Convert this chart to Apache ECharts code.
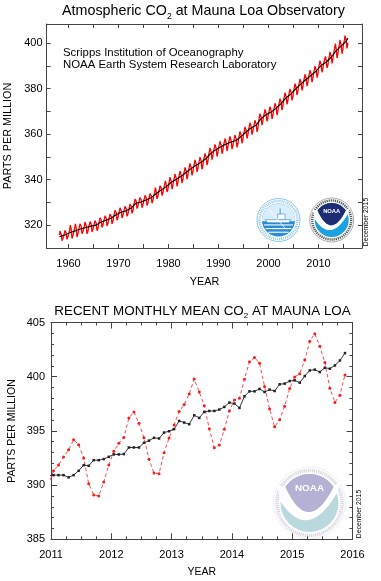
<!DOCTYPE html>
<html><head><meta charset="utf-8">
<script src="https://cdn.jsdelivr.net/npm/echarts@6/dist/echarts.min.js"></script>
<style>html,body{margin:0;padding:0;background:#fff}#c{width:381px;height:581px}</style>
</head><body><div id="c"></div>
<script>
const FONT = '"Liberation Sans", Arial, Helvetica, sans-serif';

// ---------- TOP CHART DATA ----------
// Monthly mean CO2 at Mauna Loa (ppm), Jan 1958 .. Nov 2010, one row per year (Jan..Dec)
const topStartYear = 1958;
const topMonthlyCo2 = [
 null,null,315.71,317.45,317.50,317.10,315.86,314.93,313.20,312.66,313.33,314.67,
 315.62,316.38,316.71,317.72,318.29,318.15,316.54,314.80,313.84,313.26,314.80,315.58,
 316.43,316.97,317.58,319.02,320.03,319.59,318.18,315.91,314.16,313.83,315.00,316.19,
 316.93,317.70,318.54,319.48,320.58,319.77,318.57,316.79,314.80,315.38,316.10,317.01,
 317.94,318.56,319.68,320.63,321.01,320.55,319.58,317.40,316.26,315.42,316.69,317.69,
 318.74,319.08,319.86,321.39,322.25,321.47,319.74,317.77,316.21,315.99,317.12,318.31,
 319.3,319.9,320.4,321.6,322.4,322.0,320.6,318.5,317.1,316.8,318.0,319.0,
 319.6,320.3,320.8,322.0,322.8,322.5,321.0,319.0,317.6,317.2,318.5,319.5,
 320.9,321.5,322.1,323.3,324.1,323.8,322.3,320.3,319.0,318.6,319.9,320.9,
 321.8,322.4,322.9,324.1,324.9,324.6,323.1,321.1,319.7,319.3,320.6,321.6,
 322.5,323.1,323.7,324.9,325.7,325.4,324.0,322.0,320.6,320.3,321.6,322.6,
 324.1,324.7,325.3,326.5,327.3,327.0,325.6,323.6,322.2,321.9,323.2,324.2,
 325.3,325.9,326.4,327.6,328.4,328.1,326.6,324.6,323.2,322.8,324.1,325.1,
 325.9,326.5,327.1,328.3,329.1,328.7,327.3,325.2,323.9,323.5,324.8,325.8,
 326.7,327.4,328.0,329.3,330.1,329.8,328.4,326.5,325.2,324.9,326.2,327.3,
 329.0,329.7,330.2,331.5,332.3,332.1,330.6,328.7,327.3,327.0,328.3,329.4,
 329.9,330.5,331.0,332.2,333.0,332.6,331.1,329.1,327.7,327.3,328.5,329.5,
 330.7,331.3,331.9,333.1,333.9,333.5,332.1,330.0,328.7,328.3,329.6,330.6,
 331.3,332.0,332.6,333.9,334.7,334.4,333.0,331.0,329.7,329.4,330.7,331.8,
 333.0,333.7,334.3,335.6,336.5,336.2,334.8,332.9,331.6,331.3,332.6,333.7,
 334.7,335.4,336.0,337.3,338.1,337.8,336.4,334.4,333.1,332.8,334.1,335.2,
 336.0,336.7,337.3,338.6,339.5,339.2,337.8,335.9,334.6,334.3,335.6,336.9,
 337.9,338.8,339.8,341.1,341.7,341.0,339.3,337.2,335.8,335.9,337.3,338.8,
 339.7,340.5,341.2,342.5,343.0,342.3,340.6,338.5,337.1,337.3,338.7,340.1,
 341.0,341.8,342.5,343.8,344.4,343.7,342.0,339.9,338.5,338.6,340.0,341.5,
 342.6,343.4,344.1,345.4,346.0,345.3,343.7,341.6,340.2,340.4,341.8,343.3,
 344.4,345.2,345.9,347.2,347.8,347.0,345.4,343.2,341.9,342.0,343.4,344.8,
 345.9,346.7,347.4,348.7,349.3,348.5,346.9,344.7,343.4,343.5,344.9,346.3,
 347.2,347.9,348.7,349.9,350.5,349.8,348.1,346.0,344.6,344.8,346.2,347.6,
 348.6,349.5,350.2,351.5,352.2,351.5,349.8,347.8,346.4,346.6,348.1,349.5,
 351.1,351.9,352.6,354.0,354.6,353.9,352.2,350.1,348.8,349.0,350.4,351.9,
 352.8,353.5,354.3,355.5,356.1,355.4,353.7,351.6,350.2,350.3,351.8,353.2,
 354.2,354.9,355.6,356.9,357.4,356.7,355.0,352.8,351.4,351.5,352.9,354.3,
 355.4,356.2,356.9,358.1,358.7,357.9,356.2,354.1,352.7,352.8,354.2,355.6,
 356.4,357.1,357.8,359.0,359.5,358.8,357.0,354.8,353.4,353.5,354.8,356.2,
 356.9,357.7,358.4,359.6,360.2,359.4,357.7,355.6,354.2,354.3,355.7,357.1,
 358.3,359.1,359.9,361.2,361.8,361.1,359.5,357.4,356.0,356.2,357.6,359.1,
 360.3,361.1,361.9,363.2,363.8,363.1,361.5,359.4,358.1,358.2,359.7,361.1,
 362.3,363.1,363.8,365.1,365.7,364.9,363.3,361.1,359.8,359.9,361.3,362.7,
 363.2,364.0,364.8,366.1,366.7,366.1,364.4,362.3,361.0,361.2,362.6,364.1,
 366.0,366.9,367.7,369.0,369.7,369.0,367.4,365.3,364.0,364.2,365.7,367.2,
 368.1,368.9,369.6,370.9,371.5,370.7,369.1,366.9,365.6,365.7,367.1,368.5,
 369.3,370.1,370.8,372.1,372.6,371.9,370.2,368.1,366.7,366.9,368.3,369.7,
 370.7,371.5,372.3,373.6,374.2,373.5,371.9,369.8,368.4,368.6,370.0,371.5,
 372.7,373.5,374.3,375.6,376.3,375.6,374.0,371.9,370.6,370.8,372.3,373.8,
 375.3,376.1,376.9,378.2,378.8,378.2,376.5,374.4,373.1,373.3,374.7,376.2,
 377.0,377.9,378.6,379.9,380.6,379.9,378.2,376.2,374.8,375.0,376.5,377.9,
 379.2,380.0,380.8,382.2,382.8,382.1,380.5,378.5,377.2,377.3,378.8,380.3,
 381.4,382.2,383.0,384.3,384.9,384.3,382.6,380.5,379.2,379.4,380.8,382.3,
 383.4,384.2,385.0,386.3,386.9,386.2,384.6,382.5,381.1,381.3,382.7,384.2,
 385.3,386.1,386.8,388.1,388.7,388.0,386.4,384.3,382.9,383.1,384.5,386.0,
 387.0,387.8,388.6,389.9,390.5,389.8,388.2,386.1,384.8,384.9,386.4,387.9,
 389.4,390.2,391.0,392.3,392.9,392.3,390.6,388.6,387.2,387.4,388.9
];
// Seasonally corrected trend (ppm) at decimal years
const trendYears = [1958.2,1958.5,1959.5,1960.5,1961.5,1962.5,1963.5,1964.5,1965.5,1966.5,1967.5,1968.5,1969.5,
 1970.5,1971.5,1972.5,1973.5,1974.5,1975.5,1976.5,1977.5,1978.5,1979.5,1980.5,1981.5,1982.5,1983.5,1984.5,
 1985.5,1986.5,1987.5,1988.5,1989.5,1990.5,1991.5,1992.5,1993.5,1994.5,1995.5,1996.5,1997.5,1998.5,1999.5,
 2000.5,2001.5,2002.5,2003.5,2004.5,2005.5,2006.5,2007.5,2008.5,2009.5,2010.5,2011.5,2012.5,2013.5,2014.5,2015.5,2015.88];
const trendValues = [314.9,315.2,315.97,316.91,317.64,318.45,318.99,319.62,320.04,321.38,322.16,323.04,324.62,
 325.68,326.32,327.45,329.68,330.19,331.12,332.03,333.84,335.41,336.84,338.76,340.12,341.48,343.15,344.85,
 346.35,347.61,349.31,351.69,353.20,354.45,355.70,356.54,357.21,358.96,360.97,362.74,363.88,366.84,368.54,
 369.71,371.32,373.45,375.98,377.70,379.98,382.09,384.02,385.83,387.64,390.10,391.6,393.7,396.6,398.7,400.8,402.2];
const topXTicks = [1960,1965,1970,1975,1980,1985,1990,1995,2000,2005,2010,2015];
const topXLabels = [1960,1970,1980,1990,2000,2010];
const topYTicks = [320,330,340,350,360,370,380,390,400];
const topYLabels = [320,340,360,380,400];

// ---------- BOTTOM CHART DATA ----------
// Monthly values from Dec 2010 to Nov 2015
const recentStartYear = 2010, recentStartMonth = 11; // Dec 2010 (0-based month)
const recentMonthlyMean = [389.97,
 391.33,391.86,392.60,393.25,394.19,393.73,392.51,390.13,389.08,389.00,390.28,391.86,
 393.12,393.86,394.40,396.18,396.74,395.71,394.36,392.39,391.11,391.05,392.98,394.34,
 395.55,396.80,397.43,398.41,399.78,398.60,397.32,395.20,393.45,393.70,395.16,396.84,
 397.85,398.01,399.77,401.38,401.78,401.25,399.10,397.03,395.38,396.03,397.28,398.91,
 399.98,400.28,401.54,403.28,403.96,402.80,401.31,398.93,397.63,398.29,400.16];
const recentTrend = [390.85,
 390.92,390.92,390.92,390.71,390.92,391.32,391.84,391.78,392.30,392.30,392.40,392.61,
 392.83,392.83,392.86,393.47,393.47,393.47,393.90,394.10,394.36,394.30,394.85,394.97,
 395.16,395.92,395.77,395.62,396.44,396.20,396.75,396.84,396.84,396.97,397.21,397.61,
 397.52,397.12,398.19,398.65,398.65,398.87,398.59,398.81,398.68,399.30,399.36,399.60,
 399.66,399.45,400.06,400.58,400.65,400.43,400.83,400.74,401.04,401.50,402.18];

// ---------- build series data ----------
const topRed = [];
topMonthlyCo2.concat(recentMonthlyMean).forEach((v, i) => {
  if (v != null) topRed.push([topStartYear + (i + 0.5) / 12, v]);
});
const topBlack = trendYears.map((y, i) => [y, trendValues[i]]);
const recX = i => recentStartYear + (recentStartMonth + i + 0.5) / 12;
const botRed = recentMonthlyMean.map((v, i) => [recX(i), v]);
const botBlack = recentTrend.map((v, i) => [recX(i), v]);

// ---------- layout ----------
const G1 = {left: 46.5, top: 24, width: 315.5, height: 224};
const G2 = {left: 51, top: 322.5, width: 301.5, height: 216.8};
const FRAME = '#444';

function axisCommon(extra) {
  return Object.assign({
    type: 'value', scale: true, splitLine: {show: false},
    axisLine: {show: true, onZero: false, lineStyle: {color: FRAME, width: 1}},
    axisTick: {show: true, inside: true, length: 4, lineStyle: {color: FRAME}},
    axisLabel: {show: false}
  }, extra);
}
const lbl = (margin) => ({show: true, color: '#000', fontSize: 11, fontFamily: FONT, margin: margin, formatter: v => String(Math.round(v))});

const xAxes = [
  axisCommon({gridIndex: 0, min: 1955.6, max: 2018.7, position: 'bottom',
    axisTick: {show: true, inside: true, length: 4, lineStyle: {color: FRAME}, customValues: topXTicks},
    axisLabel: Object.assign(lbl(10), {customValues: topXLabels})}),
  axisCommon({gridIndex: 0, min: 1955.6, max: 2018.7, position: 'top',
    axisTick: {show: true, inside: true, length: 4, lineStyle: {color: FRAME}, customValues: topXTicks}}),
  axisCommon({gridIndex: 1, min: 2011, max: 2016, interval: 1, position: 'bottom',
    axisTick: {show: true, inside: true, length: 6, lineStyle: {color: FRAME}},
    minorTick: {show: true, splitNumber: 4, length: 3, lineStyle: {color: FRAME}},
    axisLabel: lbl(10)}),
  axisCommon({gridIndex: 1, min: 2011, max: 2016, interval: 1, position: 'top',
    axisTick: {show: true, inside: true, length: 6, lineStyle: {color: FRAME}},
    minorTick: {show: true, splitNumber: 4, length: 3, lineStyle: {color: FRAME}}})
];
const yAxes = [
  axisCommon({gridIndex: 0, min: 310, max: 408.4, position: 'left',
    axisTick: {show: true, inside: true, length: 4, lineStyle: {color: FRAME}, customValues: topYTicks},
    axisLabel: Object.assign(lbl(4), {customValues: topYLabels})}),
  axisCommon({gridIndex: 0, min: 310, max: 408.4, position: 'right',
    axisTick: {show: true, inside: true, length: 4, lineStyle: {color: FRAME}, customValues: topYTicks}}),
  axisCommon({gridIndex: 1, min: 385, max: 405, interval: 5, position: 'left',
    axisTick: {show: true, inside: true, length: 6, lineStyle: {color: FRAME}},
    minorTick: {show: true, splitNumber: 5, length: 3, lineStyle: {color: FRAME}},
    axisLabel: lbl(6)}),
  axisCommon({gridIndex: 1, min: 385, max: 405, interval: 5, position: 'right',
    axisTick: {show: true, inside: true, length: 6, lineStyle: {color: FRAME}},
    minorTick: {show: true, splitNumber: 5, length: 3, lineStyle: {color: FRAME}}})
];

// ---------- logo helpers (decoration) ----------
function arcPts(cx, cy, r, a0, a1, n) {
  const p = [];
  for (let i = 0; i <= n; i++) { const a = (a0 + (a1 - a0) * i / n) * Math.PI / 180; p.push([cx + r * Math.cos(a), cy - r * Math.sin(a)]); }
  return p;
}
function quadPts(p0, p1, p2, n) {
  const p = [];
  for (let i = 0; i <= n; i++) { const t = i / n, u = 1 - t; p.push([u*u*p0[0] + 2*u*t*p1[0] + t*t*p2[0], u*u*p0[1] + 2*u*t*p1[1] + t*t*p2[1]]); }
  return p;
}
function noaaLogo(cx, cy, R, r, c) {
  const P = (x, y) => [cx + x * r, cy + y * r];
  const L = P(-0.83, -0.56), Rr = P(0.83, -0.56);
  const bowl = quadPts(L, P(-0.05, 1.18), Rr, 24);
  const teal = quadPts(P(-1.0, -0.05), P(-0.05, 1.38), P(0.95, -0.35), 24);
  const bird = [P(-1.12, -0.62)].concat(teal, [P(1.1, -0.78)], bowl.slice().reverse());
  const lav = arcPts(cx, cy, r, 146, 34, 30).concat(bowl.slice().reverse());
  return [
    {type: 'circle', shape: {cx, cy, r: R}, style: {fill: '#fff', stroke: c.edge, lineWidth: 0.6}},
    {type: 'circle', shape: {cx, cy, r: (R + r) / 2}, style: {fill: null, stroke: c.ring, lineWidth: (R - r) * 0.5, lineDash: [1.2, 0.9]}},
    {type: 'circle', shape: {cx, cy, r}, style: {fill: c.bottom}},
    {type: 'polygon', shape: {points: bird}, style: {fill: '#fff'}},
    {type: 'polygon', shape: {points: lav}, style: {fill: c.top}},
    {type: 'text', x: cx, y: cy - 0.5 * r, style: {text: 'NOAA', fill: '#fff', font: 'bold ' + (0.34 * r).toFixed(1) + 'px ' + FONT, align: 'center', verticalAlign: 'middle', textAlign: 'center', textVerticalAlign: 'middle'}}
  ];
}
function scrippsLogo(cx, cy, R, r) {
  const els = [
    {type: 'circle', shape: {cx, cy, r: R}, style: {fill: '#fff', stroke: '#6fb6e0', lineWidth: 0.8}},
    {type: 'circle', shape: {cx, cy, r: (R + r) / 2}, style: {fill: null, stroke: '#8cc6e8', lineWidth: (R - r) * 0.5, lineDash: [1, 1]}},
    {type: 'circle', shape: {cx, cy, r}, style: {fill: '#2b8bd0'}},
    {type: 'polygon', shape: {points: arcPts(cx, cy, r, -4, 184, 30)}, style: {fill: '#d9eefa'}}
  ];
  [0.3, 0.52, 0.74].forEach(f => {
    const dy = f * r, hw = Math.sqrt(r * r - dy * dy) * 0.92;
    els.push({type: 'line', shape: {x1: cx - hw, y1: cy + dy, x2: cx + hw, y2: cy + dy}, style: {stroke: '#fff', lineWidth: 1.1}});
  });
  els.push({type: 'polygon', shape: {points: [[cx - 0.8*r, cy - 0.02*r], [cx + 0.75*r, cy - 0.02*r], [cx + 0.62*r, cy + 0.16*r], [cx - 0.65*r, cy + 0.16*r]]}, style: {fill: '#fff', stroke: '#2b8bd0', lineWidth: 0.6}});
  els.push({type: 'rect', shape: {x: cx - 0.05*r, y: cy - 0.36*r, width: 0.45*r, height: 0.34*r}, style: {fill: '#fff', stroke: '#2b8bd0', lineWidth: 0.6}});
  els.push({type: 'line', shape: {x1: cx + 0.1*r, y1: cy - 0.36*r, x2: cx + 0.1*r, y2: cy - 0.7*r}, style: {stroke: '#2b8bd0', lineWidth: 0.8}});
  els.push({type: 'line', shape: {x1: cx - 0.55*r, y1: cy - 0.6*r, x2: cx + 0.45*r, y2: cy + 0.55*r}, style: {stroke: '#ffffff', lineWidth: 0.8}});
  return els;
}
function txt(x, y, text, size, opts) {
  return Object.assign({type: 'text', x, y, style: Object.assign({text, fill: '#000', font: size + 'px ' + FONT,
    align: 'center', verticalAlign: 'middle', textAlign: 'center', textVerticalAlign: 'middle'}, (opts && opts.style) || {})},
    opts && opts.rotation != null ? {rotation: opts.rotation} : {});
}
function titleText(x, y, pre, post, size) {
  return {type: 'text', x, y, style: {
    text: '{a|' + pre + '}{s|2}{a|' + post + '}',
    rich: {a: {fontSize: size, fontFamily: FONT, fill: '#000', lineHeight: size + 4},
           s: {fontSize: size * 0.6, fontFamily: FONT, fill: '#000', lineHeight: size * 0.7, verticalAlign: 'bottom'}},
    align: 'center', verticalAlign: 'middle', textAlign: 'center', textVerticalAlign: 'middle'}};
}

const graphics = [].concat(
  scrippsLogo(278.5, 220, 21.5, 16.5),
  noaaLogo(331.7, 220, 22, 17, {edge: '#777', ring: '#555', top: '#1e2c74', bottom: '#1aa2de'}),
  noaaLogo(309.5, 503, 36, 29, {edge: '#e4e4ea', ring: '#d6d6e0', top: '#b3b1d4', bottom: '#b9d9de'}),
  [
    titleText(203.5, 11.5, 'Atmospheric CO', ' at Mauna Loa Observatory', 14.3),
    titleText(202.5, 311, 'RECENT MONTHLY MEAN CO', ' AT MAUNA LOA', 13.4),
    txt(63, 53, 'Scripps Institution of Oceanography', 11.4, {style: {align: 'left', textAlign: 'left'}}),
    txt(63, 65, 'NOAA Earth System Research Laboratory', 11.4, {style: {align: 'left', textAlign: 'left'}}),
    txt(8.5, 136, 'PARTS PER MILLION', 10.8, {rotation: Math.PI / 2}),
    txt(12.5, 431, 'PARTS PER MILLION', 10.5, {rotation: Math.PI / 2}),
    txt(204.5, 281.7, 'YEAR', 10.8),
    txt(201.7, 572, 'YEAR', 10.5),
    txt(366, 222, 'December 2015', 6.8, {rotation: Math.PI / 2}),
    txt(359.5, 514, 'December 2015', 6.8, {rotation: Math.PI / 2})
  ]
);

const option = {
  animation: false,
  backgroundColor: '#fff',
  grid: [
    Object.assign({show: false, containLabel: false}, G1),
    Object.assign({show: false, containLabel: false}, G2)
  ],
  xAxis: xAxes,
  yAxis: yAxes,
  graphic: {elements: graphics},
  series: [
    {type: 'line', xAxisIndex: 0, yAxisIndex: 0, data: topRed, showSymbol: false, symbol: 'none', silent: true,
     lineStyle: {color: '#ff0000', width: 1.3}, z: 2},
    {type: 'line', xAxisIndex: 0, yAxisIndex: 0, data: topBlack, showSymbol: false, symbol: 'none', silent: true,
     lineStyle: {color: '#000', width: 1.1}, z: 3},
    {type: 'line', xAxisIndex: 2, yAxisIndex: 2, data: botRed, symbol: 'circle', symbolSize: 3, silent: true,
     itemStyle: {color: '#ff1a1a'}, lineStyle: {color: '#ff4a4a', width: 1, type: [3.5, 2.5]}, z: 2},
    {type: 'line', xAxisIndex: 2, yAxisIndex: 2, data: botBlack, symbol: 'rect', symbolSize: 2.5, silent: true,
     itemStyle: {color: '#222'}, lineStyle: {color: '#222', width: 0.9}, z: 3}
  ]
};
const chart = echarts.init(document.getElementById('c'), null, {renderer: 'canvas', width: 381, height: 581});
chart.setOption(option);
</script>
</body></html>
